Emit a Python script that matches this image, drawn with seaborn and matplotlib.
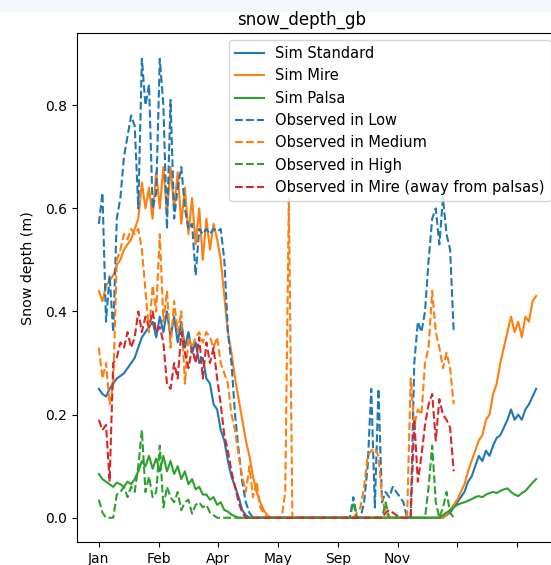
import numpy as np
import pandas as pd
import matplotlib
matplotlib.use("Agg")
import matplotlib.pyplot as plt
from matplotlib.patches import Rectangle
import seaborn as sns

# ---------------- data ----------------
sim_days = list(range(0, 367, 3))
obs_days = list(range(0, 298, 3))

sim_standard = ([0.25, 0.24, 0.235, 0.25, 0.26, 0.27, 0.275, 0.28, 0.29, 0.30,
                 0.31, 0.33, 0.35, 0.36, 0.37, 0.38, 0.35, 0.39, 0.36, 0.40,
                 0.35, 0.39, 0.34, 0.38, 0.33, 0.36, 0.32, 0.34, 0.30, 0.31,
                 0.27, 0.26, 0.22, 0.21, 0.17, 0.15, 0.11, 0.08, 0.06, 0.04,
                 0.015, 0.005]
                + [0.0] * 54
                + [0.0, 0.005, 0.01, 0.02, 0.03, 0.04, 0.05, 0.07, 0.08, 0.10,
                   0.12, 0.11, 0.13, 0.12, 0.14, 0.155, 0.16, 0.175, 0.19, 0.21,
                   0.19, 0.20, 0.19, 0.21, 0.22, 0.235, 0.25])

sim_mire = ([0.44, 0.42, 0.45, 0.46, 0.47, 0.49, 0.50, 0.52, 0.53, 0.54,
             0.56, 0.58, 0.65, 0.60, 0.64, 0.58, 0.67, 0.60, 0.68, 0.59,
             0.68, 0.60, 0.67, 0.57, 0.64, 0.55, 0.62, 0.53, 0.60, 0.50,
             0.58, 0.52, 0.57, 0.54, 0.50, 0.43, 0.36, 0.32, 0.27, 0.23,
             0.19, 0.15, 0.12, 0.08, 0.05, 0.03, 0.015, 0.005]
            + [0.0] * 48
            + [0.0, 0.005, 0.015, 0.025, 0.035, 0.05, 0.065, 0.09, 0.11, 0.13,
               0.15, 0.16, 0.19, 0.20, 0.24, 0.26, 0.30, 0.33, 0.36, 0.39,
               0.36, 0.38, 0.35, 0.39, 0.38, 0.42, 0.43])

sim_palsa = ([0.085, 0.075, 0.07, 0.065, 0.06, 0.068, 0.065, 0.06, 0.07, 0.065,
              0.075, 0.09, 0.11, 0.10, 0.12, 0.095, 0.115, 0.09, 0.12, 0.09,
              0.11, 0.085, 0.10, 0.075, 0.09, 0.065, 0.075, 0.055, 0.06, 0.045,
              0.045, 0.035, 0.04, 0.025, 0.03, 0.015, 0.012, 0.006, 0.003]
             + [0.0] * 57
             + [0.005, 0.01, 0.015, 0.02, 0.025, 0.028, 0.03, 0.033, 0.036, 0.04,
                0.042, 0.04, 0.045, 0.048, 0.05, 0.048, 0.052, 0.055, 0.057, 0.05,
                0.045, 0.042, 0.048, 0.052, 0.06, 0.068, 0.075])

obs_low = ([0.57, 0.63, 0.38, 0.47, 0.36, 0.58, 0.62, 0.70, 0.74, 0.78,
            0.76, 0.60, 0.89, 0.80, 0.84, 0.60, 0.63, 0.89, 0.80, 0.56,
            0.81, 0.58, 0.64, 0.68, 0.60, 0.56, 0.57, 0.47, 0.56, 0.55,
            0.56, 0.55, 0.56, 0.555, 0.56, 0.50, 0.36, 0.30, 0.20, 0.13,
            0.07, 0.03, 0.01]
           + [0.0] * 27
           + [0.0, 0.04, 0.0, 0.0, 0.03, 0.10, 0.25, 0.02, 0.25, 0.03,
              0.05, 0.04, 0.06, 0.05, 0.04, 0.03, 0.0, 0.0, 0.30, 0.38,
              0.36, 0.40, 0.50, 0.58, 0.60, 0.53, 0.62, 0.55, 0.52, 0.36])

obs_medium = ([0.33, 0.27, 0.30, 0.22, 0.26, 0.50, 0.52, 0.55, 0.54, 0.56,
               0.55, 0.56, 0.52, 0.44, 0.36, 0.45, 0.40, 0.55, 0.38, 0.44,
               0.33, 0.42, 0.36, 0.40, 0.26, 0.35, 0.33, 0.35, 0.36, 0.34,
               0.36, 0.35, 0.33, 0.35, 0.30, 0.28, 0.26, 0.20, 0.17, 0.12,
               0.08, 0.05, 0.10, 0.04, 0.07, 0.02, 0.01]
              + [0.0] * 5
              + [0.05, 0.62, 0.0]
              + [0.0] * 16
              + [0.0, 0.01, 0.02, 0.06, 0.12, 0.13, 0.135, 0.12, 0.04,
                 0.01, 0.0, 0.0, 0.0, 0.0, 0.0, 0.0, 0.27, 0.18, 0.21,
                 0.20, 0.30, 0.33, 0.44, 0.36, 0.33, 0.29, 0.32, 0.29, 0.22])

obs_high = ([0.035, 0.01, 0.0, 0.0, 0.0, 0.045, 0.05, 0.06, 0.04, 0.06,
             0.05, 0.10, 0.17, 0.05, 0.08, 0.04, 0.05, 0.14, 0.02, 0.06,
             0.04, 0.03, 0.05, 0.015, 0.03, 0.035, 0.008, 0.025, 0.03, 0.02,
             0.025, 0.01, 0.005, 0.0]
            + [0.0] * 37
            + [0.03, 0.0, 0.0, 0.0, 0.0, 0.0, 0.0, 0.0, 0.0,
               0.03, 0.0, 0.0, 0.0, 0.0, 0.0, 0.0, 0.0, 0.0, 0.0,
               0.0, 0.0, 0.06, 0.14, 0.03, 0.0, 0.02, 0.05, 0.01, 0.0])

obs_mire = ([0.19, 0.17, 0.18, 0.07, 0.30, 0.31, 0.34, 0.33, 0.36, 0.33,
             0.35, 0.40, 0.36, 0.39, 0.37, 0.40, 0.36, 0.37, 0.34, 0.26,
             0.25, 0.30, 0.27, 0.36, 0.32, 0.29, 0.33, 0.30, 0.35, 0.27,
             0.34, 0.30, 0.33, 0.27, 0.22, 0.16, 0.13, 0.09, 0.06, 0.03,
             0.01]
            + [0.0] * 39
            + [0.01, 0.015, 0.01, 0.005, 0.0, 0.0, 0.0, 0.0, 0.19, 0.07,
               0.12, 0.18, 0.22, 0.24, 0.15, 0.23, 0.20, 0.19, 0.175, 0.09])

tick_labels = ['Jan', 'Feb', 'Apr', 'May', 'Sep', 'Nov', '', '']
tick_positions = [0, 50, 100, 150, 200, 250, 300, 350]

# ---------------- plot ----------------
W, H, DPI = 551, 565, 100
fig = plt.figure(figsize=(W / DPI, H / DPI), dpi=DPI)
fig.patches.append(Rectangle((0, 1 - 12 / H), 1, 12 / H, transform=fig.transFigure,
                             facecolor='#f4f8fc', edgecolor='none', zorder=-5))
ax_l, ax_r, ax_t, ax_b = 77, 558, 33, 542
ax = fig.add_axes([ax_l / W, (H - ax_b) / H, (ax_r - ax_l) / W, (ax_b - ax_t) / H])

c0, c1, c2, c3 = '#1f77b4', '#ff7f0e', '#2ca02c', '#d62728'
lw = 1.5

sim_series = [("Sim Standard", sim_standard, c0),
              ("Sim Mire", sim_mire, c1),
              ("Sim Palsa", sim_palsa, c2)]
obs_series = [("Observed in Low", obs_low, c0),
              ("Observed in Medium", obs_medium, c1),
              ("Observed in High", obs_high, c2),
              ("Observed in Mire (away from palsas)", obs_mire, c3)]

for name, vals, col in sim_series:
    sns.lineplot(x=sim_days, y=vals, ax=ax, color=col, lw=lw, label=name,
                 estimator=None, sort=False)
for name, vals, col in obs_series:
    sns.lineplot(x=obs_days, y=vals, ax=ax, color=col, lw=lw, label=name,
                 linestyle='--', estimator=None, sort=False)

ax.set_xlim(-18.3, 384.3)
ax.set_ylim(-0.047, 0.94)
ax.set_xticks(tick_positions)
ax.set_xticklabels(tick_labels)
ax.set_yticks([0.0, 0.2, 0.4, 0.6, 0.8])
ax.set_yticklabels(['0.0', '0.2', '0.4', '0.6', '0.8'])
ax.set_xlabel('')
ax.set_ylabel('Snow depth (m)', fontsize=10.3)
ax.yaxis.set_label_coords(-0.087, (ax_b - 268) / (ax_b - ax_t))
ax.set_title('snow_depth_gb', x=(301.5 - ax_l) / (ax_r - ax_l))
ax.legend(loc='upper right', fontsize=10.5)

fig.savefig('out.png', dpi=DPI)
